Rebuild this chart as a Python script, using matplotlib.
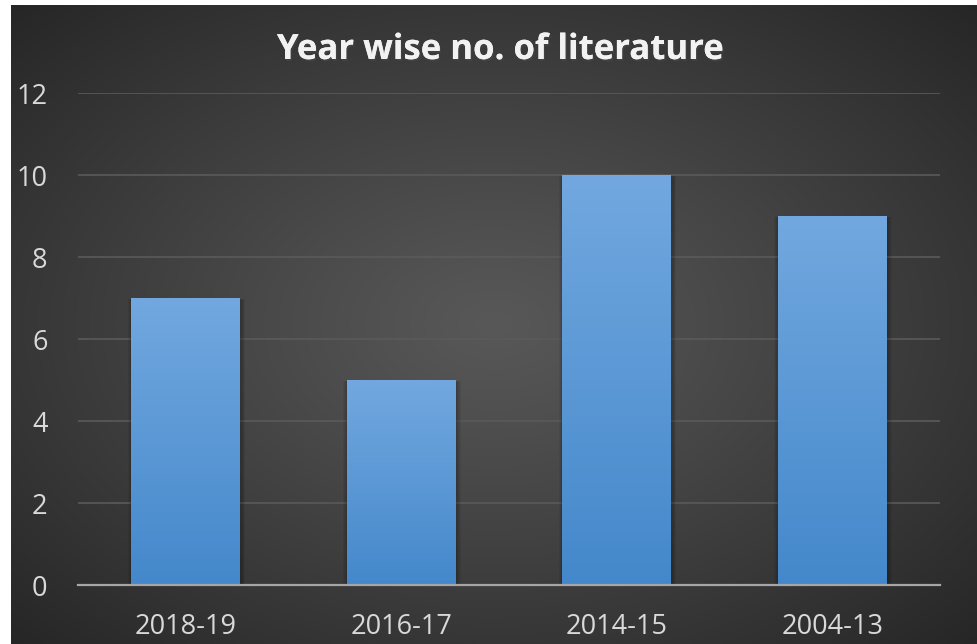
import numpy as np
import matplotlib.pyplot as plt
import matplotlib.patheffects as pe
from matplotlib.patches import Rectangle

# data
periods = ['2018-19', '2016-17', '2014-15', '2004-13']
counts = [7, 5, 10, 9]
yticks = [0, 2, 4, 6, 8, 10, 12]

W, H = 977, 644
fig = plt.figure(figsize=(W / 100, H / 100), dpi=100)
fig.patch.set_facecolor('white')

# dark radial background panel
bg = fig.add_axes([11 / W, 0, 1 - 11 / W, 1 - 5 / H])
gx, gy = np.meshgrid(np.linspace(-1, 1, 400), np.linspace(-1, 1, 300))
r = np.sqrt((gx * 0.95) ** 2 + (gy * 0.95) ** 2)
r = np.clip(r / 1.35, 0, 1)
c0 = np.array([0x58, 0x58, 0x58]) / 255
c1 = np.array([0x26, 0x26, 0x26]) / 255
img = c0 + (c1 - c0) * r[..., None] ** 1.1
bg.imshow(img, aspect='auto', extent=[0, 1, 0, 1], origin='lower')
bg.set_axis_off()

ax = fig.add_axes([78 / W, 1 - 585 / H, (940 - 78) / W, (585 - 93) / H])
ax.patch.set_alpha(0)
x = np.arange(len(periods))
bars = ax.bar(x, counts, width=0.505, color='#5b9bd5', zorder=3)

# vertical gradient inside each bar
grad = np.linspace(0, 1, 256)[:, None]
top = np.array([0x72, 0xa8, 0xdf]) / 255
bot = np.array([0x44, 0x88, 0xcb]) / 255
gimg = bot + (top - bot) * grad[..., None]
for b in bars:
    x0, w, h = b.get_x(), b.get_width(), b.get_height()
    # soft shadow around the bar
    for k in range(1, 6):
        d = 0.004 * k
        ax.add_patch(Rectangle((x0 - d + 0.004, 0), w + 2 * d, h + d * 1.5 - 0.05,
                               facecolor='black', alpha=0.05, zorder=2,
                               linewidth=0))
    im = ax.imshow(gimg, extent=[x0, x0 + w, 0, h], origin='lower',
                   aspect='auto', zorder=4)
    im.set_clip_path(b)

ax.set_xlim(-0.5, 3.5)
ax.set_ylim(0, 12)
ax.set_yticks(yticks)
ax.set_xticks(x)
ax.set_xticklabels(periods)
ax.grid(axis='y', color='#5a5a5a', linewidth=1.2, zorder=0)
for s in ['top', 'right', 'left']:
    ax.spines[s].set_visible(False)
ax.spines['bottom'].set_color('#a6a6a6')
ax.spines['bottom'].set_linewidth(1.6)
ax.spines['bottom'].set_zorder(5)
ax.tick_params(length=0, colors='#d9d9d9', labelsize=19.5)
ax.tick_params(axis='x', pad=20)
ax.tick_params(axis='y', pad=22)
for lab in ax.get_xticklabels() + ax.get_yticklabels():
    lab.set_fontfamily('Open Sans')

fig.text(0.512, 1 - 50 / H, 'Year wise no. of literature', ha='center',
         va='center', color='#f2f2f2', fontsize=25, fontweight='bold',
         fontfamily='Open Sans',
         path_effects=[pe.withSimplePatchShadow(offset=(1, -1.5), alpha=0.5),
                       pe.Normal()])

fig.savefig('out.png', dpi=100)
